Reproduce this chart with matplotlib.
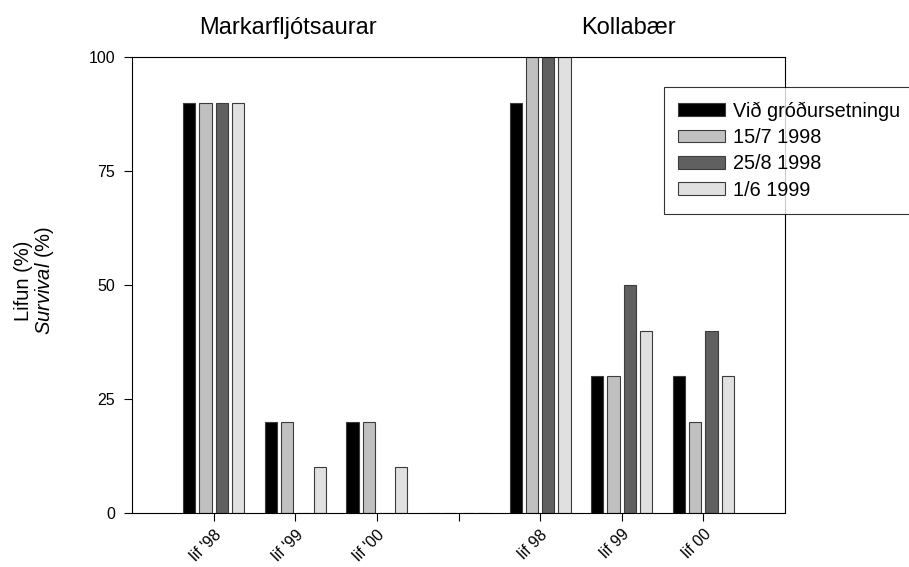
import numpy as np
import matplotlib
matplotlib.use("Agg")
import matplotlib.pyplot as plt

plt.rcParams['font.family'] = ['Liberation Sans', 'DejaVu Sans']
plt.rcParams['mathtext.fontset'] = 'custom'
plt.rcParams['mathtext.rm'] = 'Liberation Sans'
plt.rcParams['mathtext.it'] = 'Liberation Sans:italic'

# lifun plantna eftir svæði og ári
sites = ["Markarfljótsaurar", "Kollabær"]
tick_labels = ["lif '98", "lif '99", "lif '00", "", "lif 98", "lif 99", "lif 00"]
series_names = ["Við gróðursetningu", "15/7 1998", "25/8 1998", "1/6 1999"]

vid_grodursetningu = [90, 20, 20, 0, 90, 30, 30]
juli_1998 = [90, 20, 20, 0, 100, 30, 20]
agust_1998 = [90, 0, 0, 0, 100, 50, 40]
juni_1999 = [90, 10, 10, 0, 100, 40, 30]

series = [vid_grodursetningu, juli_1998, agust_1998, juni_1999]
colors = ["#000000", "#c0c0c0", "#606060", "#e0e0e0"]

fig = plt.figure(figsize=(9.09, 5.67), dpi=100)
ax = fig.add_axes([132 / 909, 1 - 513 / 567, 653 / 909, 456 / 567])

x = np.arange(1, len(tick_labels) + 1)
width = 0.15
offsets = [-0.3, -0.1, 0.1, 0.3]
for vals, col, name, off in zip(series, colors, series_names, offsets):
    ax.bar(x + off, vals, width, color=col, edgecolor="#3c3c3c", linewidth=0.8, label=name)

ax.set_xlim(0, 8)
ax.set_ylim(0, 100)
ax.set_yticks([0, 25, 50, 75, 100])
ax.set_xticks(x)
ax.set_xticklabels(tick_labels, rotation=45, ha='right', rotation_mode='anchor')
ax.tick_params(axis='both', direction='out', length=6, labelsize=11.5, width=0.8)
ax.tick_params(axis='y', pad=6)
ax.tick_params(axis='x', pad=4)
for sp in ax.spines.values():
    sp.set_linewidth(0.8)

ax.set_ylabel("Lifun (%)\n$\\mathit{Survival}$ (%)", fontsize=14.5, linespacing=1.0)
ax.yaxis.set_label_coords(-0.117, 0.51)

# heiti svæða fyrir ofan
ax.text(1.905, 105, sites[0], fontsize=17, ha='center', va='baseline')
ax.text(6.08, 105, sites[1], fontsize=17, ha='center', va='baseline')

# skýringin nær út fyrir myndina hægra megin
leg = ax.legend(loc='upper left', bbox_to_anchor=(0.815, 0.934, 0.4, 0), mode='expand',
                fontsize=14.3, frameon=True, fancybox=False, handlelength=2.35,
                handleheight=0.62, borderpad=0.72, labelspacing=0.37,
                handletextpad=0.41, borderaxespad=0)
leg.get_frame().set_edgecolor('black')
leg.get_frame().set_linewidth(0.8)

fig.savefig("out.png", dpi=100)
